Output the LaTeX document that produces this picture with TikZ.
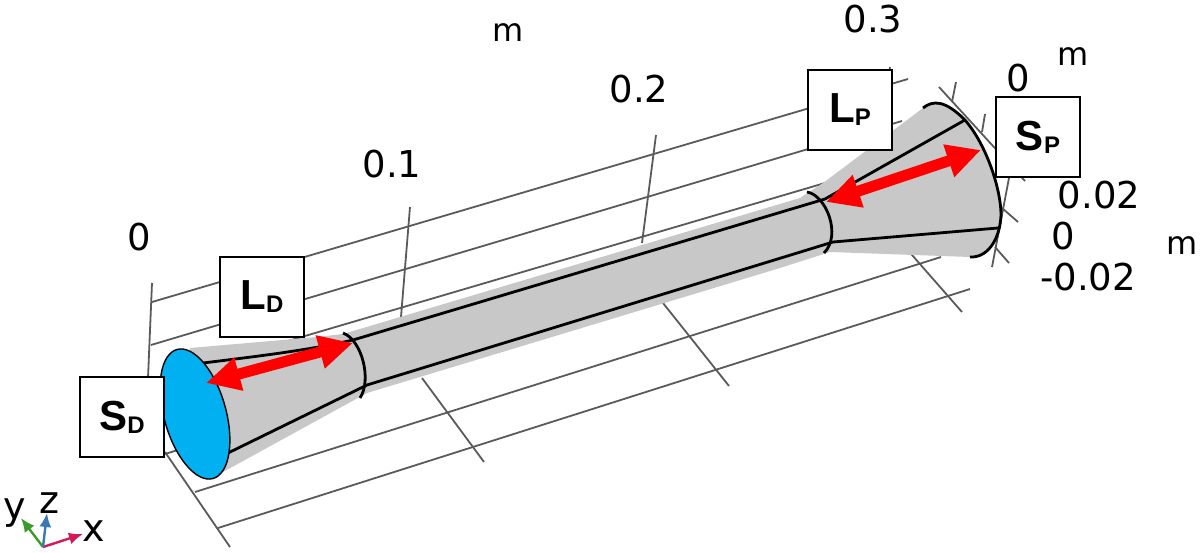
\documentclass[tikz,border=0pt]{standalone}
\usepackage{fontspec}
\setmainfont{DejaVu Sans}
\newfontfamily\boxfont{Liberation Sans}
\usetikzlibrary{arrows.meta}
\definecolor{gridgray}{HTML}{5A5A5A}
\definecolor{conegray}{HTML}{C8C8C8}
\definecolor{inletblue}{HTML}{00B0F0}
\definecolor{xred}{HTML}{D6175A}
\definecolor{ygreen}{HTML}{3A9A2A}
\definecolor{zblue}{HTML}{3A78B5}
\newcommand{\boxtext}[2]{{\boxfont\bfseries\fontsize{21}{21}\selectfont #1\raisebox{-1.5pt}{\fontsize{12}{12}\selectfont #2}}}
\tikzset{
    gridline/.style={draw=gridgray,line width=0.9pt},
    edgeline/.style={draw=black,line width=1.4pt},
    lengtharrow/.style={draw=red,line width=5.5pt,{Triangle[length=17pt,width=16pt]}-{Triangle[length=17pt,width=16pt]}},
    labelbox/.style={draw=black,fill=white,line width=0.8pt,minimum width=42pt,minimum height=40pt,inner sep=0pt},
    ticklabel/.style={inner sep=0pt,font=\fontsize{18.5}{18.5}\selectfont},
    unitlabel/.style={inner sep=0pt,font=\fontsize{16}{16}\selectfont},
    axislabel/.style={inner sep=0pt,font=\fontsize{19}{19}\selectfont},
    triad/.style={line width=1.2pt,-{Latex[length=7pt,width=6pt]}}
}

\begin{document}
\begin{tikzpicture}[x=0.5pt,y=-0.5pt]
            \useasboundingbox (0,0) rectangle (1200,552);
            % grid behind the duct
            \draw[gridline] (152,302) -- (908,79);
            \draw[gridline] (151,345) -- (902,121);
            \draw[gridline] (152,381) -- (825,183);
            \draw[gridline] (165,454) -- (422,374);
            \draw[gridline] (195,492) -- (941,257);
            \draw[gridline] (218,528) -- (970,289);
            \draw[gridline] (152,283) -- (148,378);
            \draw[gridline] (410,207) -- (401,317);
            \draw[gridline] (656,135) -- (642,243);
            \draw[gridline] (890,67) -- (876,170);
            \draw[gridline] (956,82) -- (952,102);
            \draw[gridline] (985,114) -- (982,132);
            \draw[gridline] (1009,178) -- (992,267);
            \draw[gridline] (165,452) -- (230,547);
            \draw[gridline] (422,378) -- (484,462);
            \draw[gridline] (663,303) -- (729,386);
            \draw[gridline] (905,247) -- (962,312);
            \draw[gridline] (939,87) -- (1025,181);
            \draw[gridline] (1002,208) -- (1018,222);
            \draw[gridline] (995,247) -- (1009,263);
            % duct
            \fill[conegray] (190,348) -- (317,337) -- (343,334) -- (800,198) -- (823,183) -- (923,108)
                .. controls (933,100) and (945,100) .. (965,120)
                .. controls (985,143) and (1000,185) .. (1001,213)
                .. controls (1001,235) and (990,258) .. (970,257)
                -- (830,252) -- (780,268) -- (367,393) -- (223,472) -- (195,414) -- cycle;
            \draw[edgeline] (203,363) .. controls (260,356) and (310,350) .. (353,340) -- (825,199) -- (965,120);
            \draw[edgeline] (228,453) -- (367,385) -- (833,242) -- (998,228);
            \draw[edgeline] (343,333) .. controls (362,340) and (372,380) .. (360,398);
            \draw[edgeline] (807,192) .. controls (826,195) and (842,235) .. (824,253);
            \draw[edgeline] (923,108)
                .. controls (933,100) and (945,100) .. (965,120)
                .. controls (985,143) and (1000,185) .. (1001,213)
                .. controls (1001,235) and (990,258) .. (970,257);
            \draw[black,fill=inletblue,line width=0.7pt,rotate around={-74.4:(195,414)}] (195,414) ellipse [x radius=33.5pt,y radius=15.5pt];
            % lengths
            \coordinate (dstart) at (206,383);
            \coordinate (dend) at (353,343);
            \coordinate (pstart) at (826,202);
            \coordinate (pend) at (981,150);
            \draw[lengtharrow] (dstart) -- (dend);
            \draw[lengtharrow] (pstart) -- (pend);
            % boxes
            \node[labelbox] (boxSD) at (122,417) {\boxtext{S}{D}};
            \node[labelbox] (boxLD) at (262,297) {\boxtext{L}{D}};
            \node[labelbox] (boxLP) at (850,110) {\boxtext{L}{P}};
            \node[labelbox] (boxSP) at (1038,137) {\boxtext{S}{P}};
            % axis numbers
            \node[ticklabel] (xzero) at (139,237) {0};
            \node[ticklabel] (xone) at (392,164) {0.1};
            \node[ticklabel] (xtwo) at (639,89) {0.2};
            \node[ticklabel] (xthree) at (873,19) {0.3};
            \node[ticklabel] (yzero) at (1018,78) {0};
            \node[ticklabel] (ztop) at (1099,195) {0.02};
            \node[ticklabel] (zzero) at (1063,236) {0};
            \node[ticklabel] (zlow) at (1088,277) {-0.02};
            \node[unitlabel] (xunit) at (508,33) {m};
            \node[unitlabel] (yunit) at (1073,57) {m};
            \node[unitlabel] (zunit) at (1182,246) {m};
            % triad
            \coordinate (origin) at (43,547);
            \node[axislabel] (xname) at (94,531) {x};
            \node[axislabel] (yname) at (15,513) {y};
            \node[axislabel] (zname) at (49,503) {z};
            \coordinate (xtip) at (83,534);
            \coordinate (ytip) at (21,518);
            \coordinate (ztip) at (47,513);
            \draw[triad,xred] (origin) -- (xtip);
            \draw[triad,ygreen] (origin) -- (ytip);
            \draw[triad,zblue] (origin) -- (ztip);
        \end{tikzpicture}
\end{document}
